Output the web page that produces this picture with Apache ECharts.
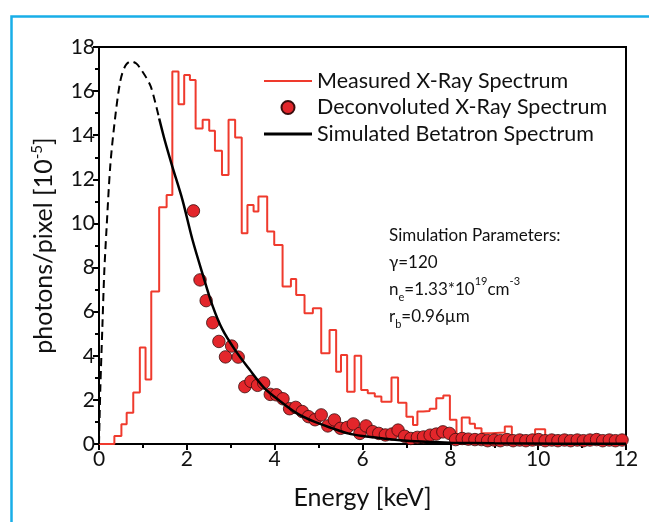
<!DOCTYPE html>
<html><head><meta charset="utf-8">
<script src="https://cdn.jsdelivr.net/npm/echarts@6/dist/echarts.min.js"></script>
<style>html,body{margin:0;padding:0;background:#fff}#c{width:649px;height:522px}</style>
</head><body><div id="c"></div>
<script>
// Measured X-Ray Spectrum: histogram bin start energies (keV) and heights
const binStart = [0.35,0.51,0.63,0.78,0.93,1.06,1.19,1.37,1.54,1.67,1.81,1.94,2.07,2.20,2.36,2.51,2.64,2.80,2.95,3.10,
  3.25,3.38,3.52,3.63,3.83,3.99,4.18,4.37,4.49,4.68,4.87,5.06,5.25,5.40,5.51,5.65,5.82,5.97,6.12,6.28,
  6.43,6.66,6.81,7.00,7.15,7.25,7.38,7.53,7.68,7.84,7.99,8.14,8.26,8.44,8.56,8.71,8.94,9.24,9.40,9.66,
  9.93,10.16,10.31,10.47,10.62,10.77,10.92,11.08,11.23,11.38,11.53,11.69,11.84];
const measured = [0.36,0.9,1.42,2.33,4.38,2.93,6.91,10.73,11.29,16.89,15.4,16.73,16.5,14.3,14.7,14.2,13.3,12.2,14.7,13.9,
  9.55,10.84,10.54,11.22,9.63,9.02,7.14,7.48,6.76,5.93,6.15,4.11,5.17,3.28,4.04,2.37,4.0,2.45,2.3,2.15,
  1.92,3.02,1.87,1.24,0.86,1.47,1.5,1.6,2.07,2.2,1.1,0.18,1.2,0.92,0.71,0.49,0.52,0.79,0.21,0.36,
  0.67,0.3,0.2,0.36,0.36,0.2,0.25,0.2,0.33,0.33,0.2,0.15,0.3];
const binEnd = 12;

// Deconvoluted X-Ray Spectrum (points)
const deconvE = [2.15,2.30,2.44,2.59,2.73,2.88,3.02,3.17,3.32,3.46,3.61,3.75,3.90,4.04,4.19,4.34,4.48,4.63,4.77,4.92,
  5.06,5.21,5.36,5.50,5.65,5.79,5.94,6.08,6.23,6.37,6.52,6.67,6.81,6.96,7.10,7.25,7.39,7.54,7.68,7.83,
  7.98,8.12,8.27,8.41,8.56,8.71,8.85,9.00,9.14,9.29,9.43,9.58,9.72,9.87,10.01,10.16,10.31,10.45,10.60,10.74,
  10.89,11.03,11.18,11.33,11.47,11.62,11.76,11.91];
const deconvV = [10.57,7.44,6.5,5.5,4.65,3.95,4.44,3.94,2.6,2.84,2.66,2.77,2.25,2.23,2.05,1.6,1.66,1.47,1.24,1.1,
  1.32,0.82,1.09,0.71,0.75,0.91,0.48,0.82,0.56,0.48,0.41,0.45,0.63,0.35,0.25,0.3,0.32,0.4,0.45,0.55,
  0.48,0.2,0.25,0.22,0.2,0.2,0.15,0.18,0.15,0.2,0.15,0.18,0.15,0.18,0.2,0.15,0.18,0.15,0.18,0.15,
  0.18,0.15,0.18,0.2,0.15,0.18,0.15,0.18];

// Simulated Betatron Spectrum (dashed low-energy part, solid part)
const simDashE = [0,0.03,0.08,0.12,0.17,0.26,0.38,0.49,0.6,0.72,0.85,0.95,1.08,1.18,1.28,1.37];
const simDashV = [0,2.5,5.5,7.8,9.7,12.7,15.0,16.5,17.15,17.35,17.25,17.0,16.6,16.2,15.5,14.76];
const simSolidE = [1.37,1.5,1.67,1.9,2.13,2.36,2.58,2.81,3.12,3.42,3.76,4.14,4.5,4.9,5.3,5.67,6.0,6.43,7.2,8.0,9.0,10.5,12.0];
const simSolidV = [14.76,13.75,12.58,11.07,9.25,7.7,6.3,5.2,4.2,3.4,2.55,1.92,1.4,1.01,0.72,0.48,0.36,0.26,0.12,0.06,0.03,0.015,0.01];

const FONT = 'Lato';
const histData = [[0, 0]].concat(binStart.map((e, i) => [e, measured[i]])).concat([[binEnd, measured[measured.length - 1]]]);
const zip = (a, b) => a.map((v, i) => [v, b[i]]);

const chart = echarts.init(document.getElementById('c'), null, {renderer: 'canvas'});
chart.setOption({
  backgroundColor: '#fff',
  animation: false,
  grid: {left: 99, right: 23, top: 47, bottom: 78, show: true, borderColor: '#000', borderWidth: 2, containLabel: false},
  xAxis: {
    type: 'value', min: 0, max: 12, interval: 2,
    name: 'Energy [keV]', nameLocation: 'middle', nameGap: 41,
    nameTextStyle: {fontFamily: FONT, fontSize: 25, color: '#111'},
    axisLine: {show: true, onZero: false, lineStyle: {color: '#000', width: 2}},
    axisTick: {show: true, inside: false, length: 6, lineStyle: {color: '#000', width: 2}},
    minorTick: {show: true, splitNumber: 2, length: 4, lineStyle: {color: '#000', width: 2}},
    splitLine: {show: false},
    axisLabel: {fontFamily: FONT, fontSize: 21, color: '#111', margin: 5}
  },
  yAxis: {
    type: 'value', min: 0, max: 18, interval: 2,
    name: 'photons/pixel [10{sup|-5}]', nameLocation: 'middle', nameGap: 42, nameRotate: 90,
    nameTextStyle: {fontFamily: FONT, fontSize: 25, color: '#111',
      rich: {sup: {fontFamily: FONT, fontSize: 15, color: '#111', verticalAlign: 'top', padding: [0, 0, 12, 0]}}},
    axisLine: {show: true, onZero: false, lineStyle: {color: '#000', width: 2}},
    axisTick: {show: true, inside: false, length: 6, lineStyle: {color: '#000', width: 2}},
    minorTick: {show: true, splitNumber: 2, length: 4, lineStyle: {color: '#000', width: 2}},
    splitLine: {show: false},
    axisLabel: {fontFamily: FONT, fontSize: 21, color: '#111', margin: 4}
  },
  legend: {
    orient: 'vertical', left: 259, top: 65, itemWidth: 48, itemHeight: 13, itemGap: 4.5,
    textStyle: {fontFamily: FONT, fontSize: 21.5, color: '#111', lineHeight: 22},
    data: [
      {name: 'Measured X-Ray Spectrum', icon: 'path://M0,0H48V2H0Z'},
      {name: 'Deconvoluted X-Ray Spectrum', icon: 'circle'},
      {name: 'Simulated Betatron Spectrum', icon: 'path://M0,0H48V2.8H0Z'}
    ]
  },
  series: [
    {
      name: 'Measured X-Ray Spectrum', type: 'line', step: 'end', data: histData,
      symbol: 'none', showSymbol: false, z: 2,
      lineStyle: {color: '#ef3a2d', width: 2}, itemStyle: {color: '#ef3a2d', borderWidth: 0}
    },
    {
      name: 'Deconvoluted X-Ray Spectrum', type: 'scatter', data: zip(deconvE, deconvV),
      symbol: 'circle', symbolSize: 12.5, z: 3,
      itemStyle: {color: '#e3262b', borderColor: '#3a0d0d', borderWidth: 0.8, opacity: 1}
    },
    {
      name: 'Simulated Betatron Spectrum', type: 'line', data: zip(simSolidE, simSolidV),
      symbol: 'none', showSymbol: false, smooth: 0.3, z: 4,
      lineStyle: {color: '#000', width: 2.5}, itemStyle: {color: '#000', borderWidth: 0}
    },
    {
      name: 'sim-dashed', type: 'line', data: zip(simDashE, simDashV),
      symbol: 'none', showSymbol: false, smooth: 0.3, z: 4,
      lineStyle: {color: '#000', width: 2, type: [8, 5]}, itemStyle: {color: '#000'}
    }
  ],
  graphic: [
    {type: 'rect', left: 9, top: 14, shape: {width: 700, height: 600}, silent: true,
      style: {fill: 'none', stroke: '#19aee8', lineWidth: 2.5}, z: 100},
    {type: 'text', left: 389, top: 222, z: 100,
      style: {
        text: 'Simulation Parameters:\nγ=120\nn{sub|e}=1.33*10{sup|19}cm{sup|-3}\nr{sub|b}=0.96µm',
        font: '17px ' + FONT, fill: '#111', lineHeight: 27,
        rich: {
          sub: {fontSize: 11, fontFamily: FONT, fill: '#111', verticalAlign: 'bottom', padding: [9, 0, 0, 0]},
          sup: {fontSize: 11, fontFamily: FONT, fill: '#111', verticalAlign: 'top', padding: [0, 0, 9, 0]}
        }
      }}
  ]
});
</script></body></html>
